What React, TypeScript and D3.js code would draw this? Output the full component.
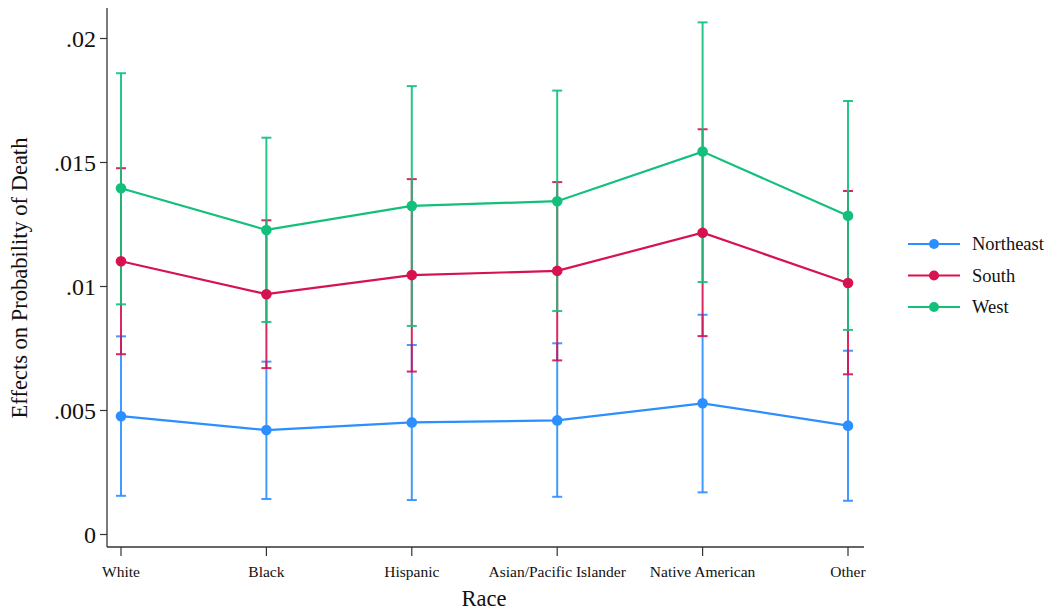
import React from "react";
import * as d3 from "d3";

const categories = ["White", "Black", "Hispanic", "Asian/Pacific Islander", "Native American", "Other"];
const seriesNames = ["Northeast", "South", "West"];
const seriesColors = ["#2b8fff", "#d6124f", "#12c07c"];

const northeastEst = [0.00477, 0.00421, 0.00452, 0.0046, 0.00529, 0.00439];
const northeastLo = [0.00156, 0.00143, 0.00139, 0.00152, 0.0017, 0.00136];
const northeastHi = [0.00799, 0.00697, 0.00764, 0.00771, 0.00886, 0.00741];

const southEst = [0.01102, 0.00969, 0.01046, 0.01063, 0.01217, 0.01014];
const southLo = [0.00727, 0.00671, 0.00657, 0.00702, 0.008, 0.00646];
const southHi = [0.01477, 0.01267, 0.01433, 0.01421, 0.01634, 0.01385];

const westEst = [0.01396, 0.01228, 0.01325, 0.01344, 0.01544, 0.01285];
const westLo = [0.00928, 0.00857, 0.00841, 0.00901, 0.01018, 0.00825];
const westHi = [0.0186, 0.016, 0.01808, 0.0179, 0.02065, 0.01748];

const yTicks = [0, 0.005, 0.01, 0.015, 0.02];
const yTickLabels = ["0", ".005", ".01", ".015", ".02"];

const series = [
  { name: seriesNames[0], color: seriesColors[0], est: northeastEst, lo: northeastLo, hi: northeastHi },
  { name: seriesNames[1], color: seriesColors[1], est: southEst, lo: southLo, hi: southHi },
  { name: seriesNames[2], color: seriesColors[2], est: westEst, lo: westLo, hi: westHi },
];

const FONT = "Liberation Serif";

export default function App() {
  const axisLeft = 107;
  const axisBottom = 547;
  const axisTop = 8;
  const axisRight = 864;

  const x = d3.scalePoint<string>().domain(categories).range([121, 848]);
  const y = d3.scaleLinear().domain([0, 0.02]).range([534.5, 38.5]);

  const capHalf = 5;

  return (
    <svg
      width={1049}
      height={610}
      style={{ position: "absolute", left: 0, top: 0, background: "#fff", fontFamily: FONT }}
    >
      <rect x={0} y={0} width={1049} height={610} fill="#fff" />
      <line x1={axisLeft} x2={axisLeft} y1={axisTop} y2={axisBottom} stroke="#333" strokeWidth={1.3} />
      <line x1={axisLeft} x2={axisRight} y1={axisBottom} y2={axisBottom} stroke="#333" strokeWidth={1.3} />
      {yTicks.map((t, i) => (
        <g key={"yt" + i}>
          <line x1={axisLeft - 7} x2={axisLeft} y1={y(t)} y2={y(t)} stroke="#333" strokeWidth={1.2} />
          <text
            x={axisLeft - 11}
            y={y(t)}
            textAnchor="end"
            dominantBaseline="central"
            fontFamily={FONT}
            fontSize={24}
            fill="#111"
          >
            {yTickLabels[i]}
          </text>
        </g>
      ))}
      {categories.map((c) => (
        <g key={"xt" + c}>
          <line x1={x(c)!} x2={x(c)!} y1={axisBottom} y2={axisBottom + 9} stroke="#333" strokeWidth={1.2} />
          <text
            x={x(c)!}
            y={axisBottom + 30}
            textAnchor="middle"
            fontFamily={FONT}
            fontSize={15.5}
            fill="#111"
          >
            {c}
          </text>
        </g>
      ))}
      <text x={484} y={606} textAnchor="middle" fontFamily={FONT} fontSize={22.5} fill="#111">
        Race
      </text>
      <text
        transform={`translate(27, 278) rotate(-90)`}
        textAnchor="middle"
        fontFamily={FONT}
        fontSize={22.5}
        fill="#111"
      >
        Effects on Probability of Death
      </text>

      {series.map((s) => (
        <g key={"eb" + s.name} stroke={s.color} strokeWidth={2} strokeOpacity={0.9}>
          {categories.map((c, i) => (
            <g key={c}>
              <line x1={x(c)!} x2={x(c)!} y1={y(s.lo[i])} y2={y(s.hi[i])} />
              <line x1={x(c)! - capHalf} x2={x(c)! + capHalf} y1={y(s.lo[i])} y2={y(s.lo[i])} />
              <line x1={x(c)! - capHalf} x2={x(c)! + capHalf} y1={y(s.hi[i])} y2={y(s.hi[i])} />
            </g>
          ))}
        </g>
      ))}

      {series.map((s) => {
        const line = d3
          .line<number>()
          .x((_, i) => x(categories[i])!)
          .y((d) => y(d));
        return (
          <g key={"ln" + s.name}>
            <path d={line(s.est) || ""} fill="none" stroke={s.color} strokeWidth={2.2} />
            {s.est.map((v, i) => (
              <circle key={i} cx={x(categories[i])!} cy={y(v)} r={5.3} fill={s.color} />
            ))}
          </g>
        );
      })}

      {series.map((s, i) => {
        const ly = 244 + i * 31.5;
        return (
          <g key={"lg" + s.name}>
            <line x1={908} x2={960} y1={ly} y2={ly} stroke={s.color} strokeWidth={2.2} />
            <circle cx={934} cy={ly} r={5} fill={s.color} />
            <text x={972} y={ly} dominantBaseline="central" fontFamily={FONT} fontSize={18.5} fill="#111">
              {s.name}
            </text>
          </g>
        );
      })}
    </svg>
  );
}
